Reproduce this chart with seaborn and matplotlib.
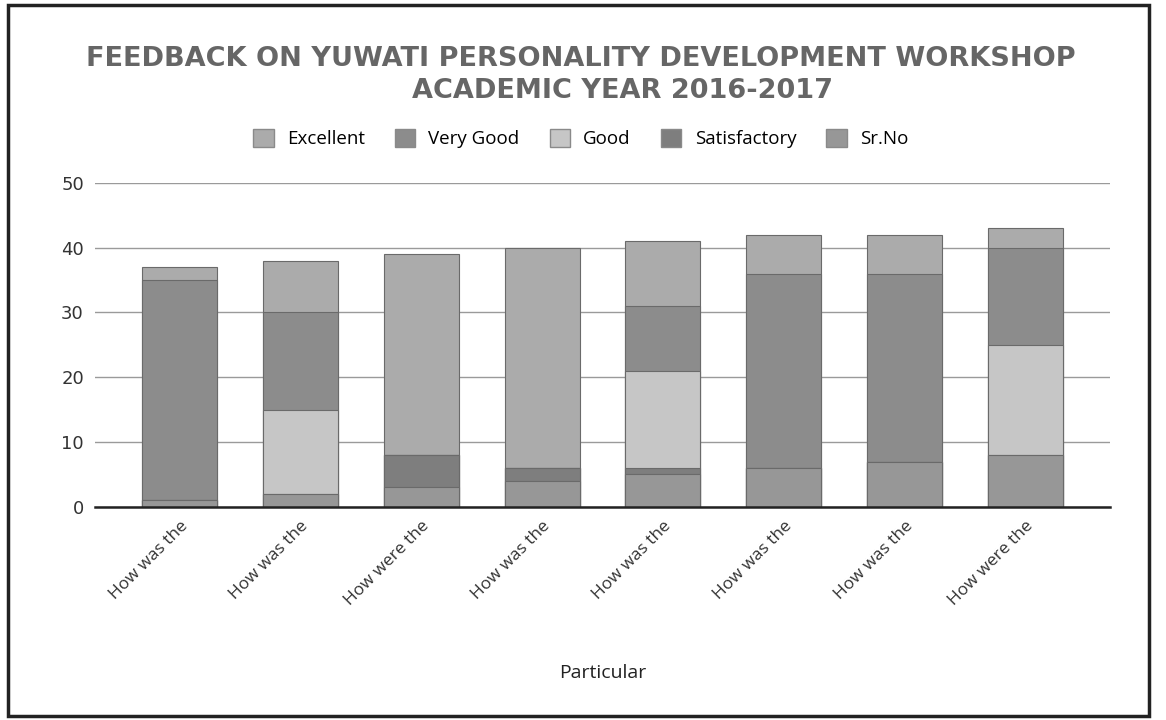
import numpy as np
import pandas as pd
import seaborn as sns
import matplotlib.pyplot as plt
from matplotlib.patches import Patch, Rectangle

# Valores (apilado de abajo hacia arriba: Sr.No, Satisfactory, Good, Very Good, Excellent)
preguntas = ["How was the", "How was the", "How were the", "How was the",
             "How was the", "How was the", "How was the", "How were the"]
sr_no = [1, 2, 3, 4, 5, 6, 7, 8]
satisfactory = [0, 0, 5, 2, 1, 0, 0, 0]
good = [0, 13, 0, 0, 15, 0, 0, 17]
very_good = [34, 15, 0, 0, 10, 30, 29, 15]
excellent = [2, 8, 31, 34, 10, 6, 6, 3]

series = ["Excellent", "Very Good", "Good", "Satisfactory", "Sr.No"]
colores = {"Excellent": "#ababab", "Very Good": "#8c8c8c", "Good": "#c6c6c6",
           "Satisfactory": "#7e7e7e", "Sr.No": "#979797"}

df = pd.DataFrame({
    "id": [f"q{i}" for i in range(len(preguntas))],
    "Sr.No": sr_no, "Satisfactory": satisfactory, "Good": good,
    "Very Good": very_good, "Excellent": excellent,
})

# Acumulados para apilar
orden_pila = ["Sr.No", "Satisfactory", "Good", "Very Good", "Excellent"]
acum = df[orden_pila].cumsum(axis=1)

fig = plt.figure(figsize=(11.66, 7.2), dpi=100)
ax = fig.add_axes([0.0815, 0.296, 0.8705, 0.45])

# Dibujar del mas alto al mas bajo para simular el apilado
for s in reversed(orden_pila):
    sns.barplot(x=df["id"], y=acum[s], color=colores[s], width=0.62,
                edgecolor="#6a6a6a", linewidth=0.8, saturation=1, ax=ax)

ax.set_ylim(0, 50)
ax.set_xlim(-0.7, 7.7)
ax.set_yticks([0, 10, 20, 30, 40, 50])
ax.yaxis.grid(True, color="#9a9a9a", linewidth=1.0)
ax.set_axisbelow(True)
for sp in ["top", "right", "left"]:
    ax.spines[sp].set_visible(False)
ax.spines["bottom"].set_color("#222222")
ax.spines["bottom"].set_linewidth(1.8)
ax.tick_params(axis="both", length=0, labelsize=13, colors="#333333", pad=8)
ax.set_xticks(range(len(preguntas)))
ax.set_xticklabels(preguntas, rotation=45, ha="right", rotation_mode="anchor",
                   fontsize=12.5, family="Open Sans")
ax.set_ylabel("")
ax.set_xlabel("Particular", fontsize=14, family="Open Sans", labelpad=40, color="#222222")

fig.text(0.498, 0.918, "FEEDBACK ON YUWATI PERSONALITY DEVELOPMENT WORKSHOP",
         ha="center", va="center", fontsize=19.5, fontweight="bold", color="#666666")
fig.text(0.534, 0.874, "ACADEMIC YEAR 2016-2017",
         ha="center", va="center", fontsize=19.5, fontweight="bold", color="#666666")

handles = [Patch(facecolor=colores[s], edgecolor="#8a8a8a", label=s) for s in series]
fig.legend(handles=handles, loc="center", bbox_to_anchor=(0.498, 0.808), ncol=5,
           frameon=False, prop={"family": "Open Sans", "size": 13.5},
           handlelength=1.1, handleheight=1.1, columnspacing=1.6, handletextpad=0.7)

# Marco del papel escaneado
fig.patches.append(Rectangle((0.007, 0.005), 0.978, 0.988, transform=fig.transFigure,
                             fill=False, edgecolor="#222222", linewidth=2.5))

fig.savefig("out.png", dpi=100)
